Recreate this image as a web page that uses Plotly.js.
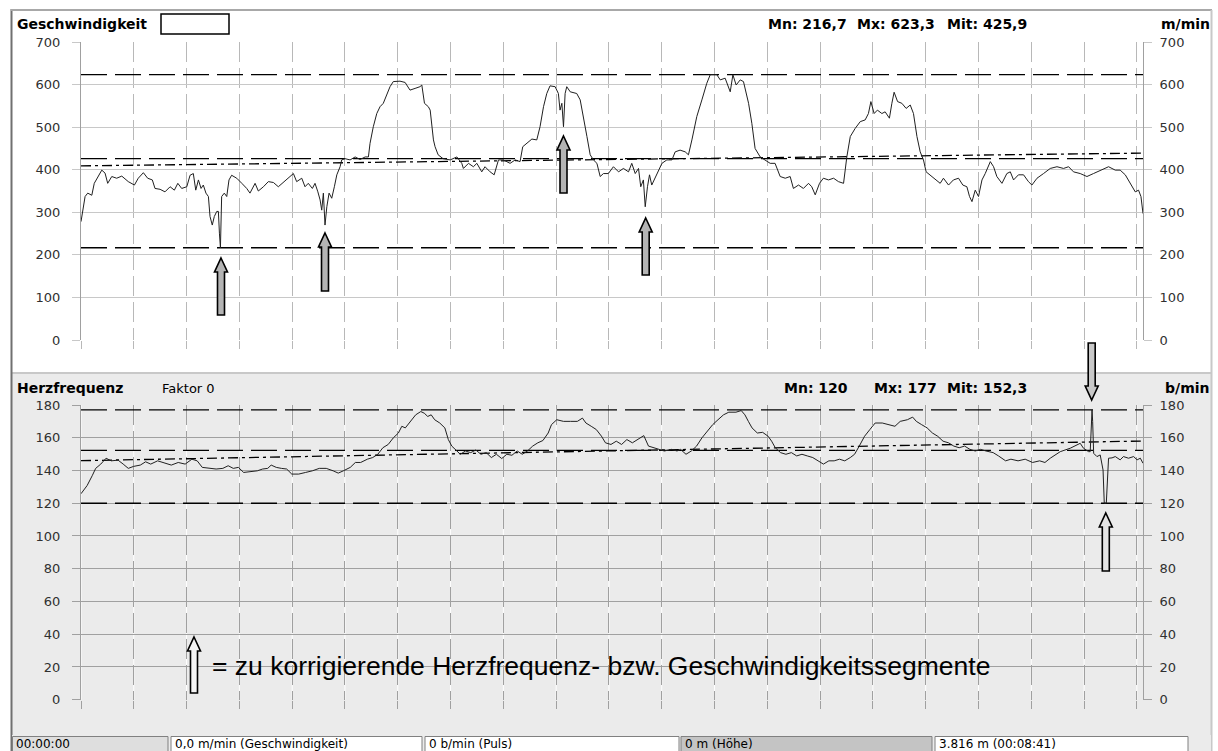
<!DOCTYPE html>
<html><head><meta charset="utf-8">
<script src="https://cdn.plot.ly/plotly-3.0.1.min.js"></script>
<style>html,body{margin:0;padding:0;background:#fff;overflow:hidden}#chart{width:1218px;height:751px}</style>
</head><body><div id="chart"></div>
<script>
// ---------------- DATA ----------------
const DURATION = 521;            // s (00:08:41)
const GRID_STEP = 25.9;          // s between vertical grid lines
const SPEED_TICKS = [0,100,200,300,400,500,600,700];
const HR_TICKS = [0,20,40,60,80,100,120,140,160,180];

const SPEED_T = [0,2.0,3.3,5.3,6.5,10.2,11.8,13.1,15.1,17.5,20.0,23.2,26.2,28.1,30.6,32.7,35.0,36.3,38.8,41.2,43.7,45.8,47.5,49.4,51.9,53.5,55.1,56.3,57.6,58.9,60.0,61.3,62.5,63.3,64.4,65.4,66.6,67.4,67.9,68.4,69.0,70.3,71.5,72.6,73.9,76.4,78.9,81.3,82.9,85.4,87.0,89.5,91.9,94.4,96.8,99.3,101.7,104.2,105.8,108.3,109.9,111.5,113.5,114.8,116.2,117.3,118.1,118.9,119.7,120.6,121.7,123.0,124.3,125.5,127.1,127.9,129.5,132.0,134.5,136.9,139.4,141.0,141.8,143.4,145.1,146.7,148.3,150.0,151.6,153.2,156.5,159.0,161.4,163.9,166.3,167.2,168.5,170.4,171.3,172.9,173.7,175.2,177.6,181.1,184.4,186.8,187.6,190.1,192.5,194.2,196.6,198.2,200.7,202.7,204.8,207.2,210.5,213.0,215.4,216.7,218.7,221.2,223.6,225.2,226.9,228.5,230.1,232.6,234.2,235.0,235.9,236.7,237.5,238.3,240.0,243.2,244.9,246.5,248.2,249.8,251.4,253.1,254.7,256.3,258.7,261.2,263.7,266.1,268.6,270.2,271.9,273.5,274.6,275.9,276.8,277.9,278.9,280.0,282.5,285.0,287.4,289.9,291.5,293.9,296.4,298.0,299.7,302.1,304.6,307.0,308.7,311.9,313.6,316.0,318.5,319.8,321.4,323.4,325.0,327.5,329.1,330.7,333.2,335.6,338.1,340.5,343.0,345.5,347.9,349.5,352.0,354.4,356.9,358.5,360.2,362.3,364.2,366.7,369.2,371.6,374.1,375.7,377.4,379.8,382.3,384.7,386.3,387.5,389.1,390.7,392.9,394.5,396.6,397.8,398.9,400.6,402.7,404.8,406.8,408.4,410.1,411.7,413.3,414.6,417.4,419.9,421.5,423.1,425.6,428.0,430.5,432.6,434.6,435.9,437.1,438.7,440.3,442.0,443.6,446.1,447.7,449.3,451.8,454.2,455.9,457.5,459.9,462.4,464.8,466.5,469.0,472.2,475.5,478.8,482.0,484.5,486.9,490.2,493.5,496.7,500.0,504.1,507.4,509.8,512.3,514.7,517.2,518.8,520.0,521.0];
const SPEED_V = [278,337,345,340,368,399,392,368,384,380,385,372,364,380,393,380,376,356,354,348,360,352,368,356,360,387,391,352,376,356,364,345,337,290,270,290,302,302,251,216.7,337,345,337,376,387,380,368,356,345,368,350,360,372,370,360,370,380,391,372,380,360,368,356,368,348,329,305,345,270,313,345,333,360,388,407,423,426,423,430,424,430,430,462,501,532,548,556,575,595,607,608,605,587,591,595,599,556,548,540,470,454,435,426,423,430,415,403,415,407,415,395,407,395,388,423,423,415,423,419,454,462,472,470,501,548,579,597,595,579,540,556,501,579,595,583,579,564,525,478,435,423,415,384,391,391,407,395,403,395,415,391,403,360,376,313,360,388,364,388,415,423,423,442,446,442,435,470,525,564,603,623.3,623.3,611,615,583,623,599,611,607,556,509,450,430,423,415,415,384,380,384,356,364,356,368,360,341,368,380,376,380,372,368,430,478,497,513,517,532,560,532,540,532,536,521,556,582,560,556,544,552,532,478,442,423,395,384,376,368,380,364,376,380,364,360,337,325,352,337,376,391,419,407,384,368,391,395,376,388,388,372,364,380,391,403,407,403,407,395,391,384,391,399,407,399,399,388,368,348,352,337,297];

const HR_T = [0,3.0,5.5,7.2,9.7,12.3,14.8,18.2,20.7,23.2,25.8,29.1,31.7,34.2,37.6,40.9,44.3,47.7,51.1,54.4,57.0,59.5,62.9,66.3,69.6,72.2,74.7,77.2,79.8,83.1,86.5,89.1,91.6,93.3,95.8,98.3,100.9,103.4,106.8,110.2,113.5,116.9,120.3,123.7,126.2,128.7,132.1,134.6,137.2,140.5,143.1,145.6,148.1,150.7,153.2,155.7,157.4,159.1,161.6,164.2,166.7,168.4,170.1,171.8,173.5,176.0,178.5,180.2,181.9,183.6,186.1,188.6,191.2,193.7,196.2,198.8,201.3,203.8,206.4,208.9,211.4,214.0,216.5,219.0,221.6,224.1,226.6,229.2,230.8,233.4,236.7,240.1,243.5,246.0,247.7,250.3,252.8,255.3,257.3,260.0,262.6,265.2,267.8,270.5,273.1,276.1,278.4,281.0,283.6,286.2,289.7,292.4,294.1,296.8,299.4,302.0,304.6,307.3,309.9,312.5,315.2,317.8,321.3,323.9,325.7,327.4,329.2,331.8,334.4,337.1,338.8,340.6,343.2,345.8,348.5,351.1,353.7,356.3,359.0,361.6,364.2,366.9,369.5,372.1,374.7,377.4,379.5,381.8,384.4,387.0,389.6,393.1,396.7,399.3,401.9,405.4,408.0,409.8,412.4,415.1,417.7,420.3,422.9,425.6,428.2,430.8,433.5,436.1,438.7,441.3,444.0,447.5,450.1,453.6,456.2,459.7,463.2,466.8,470.3,472.9,475.5,480.4,485.3,490.2,491.8,494.3,495.1,496.0,496.3,496.8,498.4,500.0,501.4,502.0,503.0,503.6,504.1,505.8,507.4,509.8,511.4,513.9,516.4,518.1,519.7,521.0];
const HR_V = [125.8,130.8,136.8,141.3,143.9,147.5,145.9,146.3,143.9,141.3,142.5,143.3,145.3,143.9,145.9,144.5,143.3,144.9,143.9,146.9,145.9,141.9,141.3,140.9,141.3,142.9,141.3,141.9,138.8,139.2,139.8,140.9,141.3,143.3,141.9,141.3,140.9,137.8,137.8,138.8,139.8,141.3,141.3,139.8,138.4,139.8,141.9,144.9,144.9,146.9,147.9,149.9,153.9,155.9,159.9,162.9,167.0,166.0,170.0,174.0,176.0,175.0,173.0,174.0,171.0,169.0,166.0,158.9,154.9,152.9,149.9,151.9,150.9,152.5,149.9,150.9,147.9,149.9,147.3,149.9,149.3,151.9,149.9,151.9,154.9,156.9,158.3,162.9,168.0,171.0,170.0,170.0,170.0,172.0,169.0,167.0,165.0,161.0,156.9,155.9,157.9,155.9,158.9,156.9,158.9,161.3,154.9,153.9,152.9,151.9,152.9,151.9,152.9,149.9,151.9,154.9,159.9,163.9,168.0,171.0,174.0,175.6,175.6,176.6,174.0,170.0,166.0,162.9,163.3,160.9,157.9,153.9,150.9,149.9,150.9,148.9,149.9,148.9,147.9,145.9,143.9,145.9,145.9,146.9,145.9,147.9,149.9,154.9,160.9,165.0,169.0,169.0,168.0,167.0,170.0,171.0,172.6,170.0,168.0,166.0,162.9,160.9,157.9,156.9,154.9,153.9,154.9,152.9,151.9,152.9,151.9,150.9,148.9,145.9,146.9,145.9,146.9,144.9,145.9,144.9,147.5,151.5,153.6,156.6,153.6,151.5,151.5,177,170,150.5,148.5,149.5,140.3,120,120,138.3,147.5,147.7,148.5,146.5,148.5,147.5,148.5,146.5,147.5,144.4];

// reference lines: [min, max, mean] and trend [start, end]
const SPEED_REF = [216.7, 623.3, 425.9];
const SPEED_TREND = [409, 439];
const HR_REF = [120, 177, 152.3];
const HR_TREND = [146, 158];

// ---------------- LAYOUT HELPERS ----------------
const W = 1218, H = 751;
const X = px => px / W, Y = py => 1 - py / H;
const PL = 81, PR = 1143;          // plot area left/right (px)
const TOP = [42, 340], BOT = [405, 699.7];
const GRID_T = []; for (let k = 0; k * GRID_STEP <= DURATION; k++) GRID_T.push(+(k * GRID_STEP).toFixed(2));

const FONT = 'DejaVu Sans';
const refDash = '26px,8px', trendDash = '10px,4px,3px,4px';

const traces = [];
function refLine(xa, ya, y0, y1, dash) {
  traces.push({x: [0, DURATION], y: [y0, y1], xaxis: xa, yaxis: ya, mode: 'lines',
    line: {color: '#000', width: 1.3, dash: dash}, hoverinfo: 'skip'});
}
SPEED_REF.forEach(v => refLine('x', 'y', v, v, refDash));
refLine('x', 'y', SPEED_TREND[0], SPEED_TREND[1], trendDash);
HR_REF.forEach(v => refLine('x2', 'y2', v, v, refDash));
refLine('x2', 'y2', HR_TREND[0], HR_TREND[1], trendDash);
traces.push({x: SPEED_T, y: SPEED_V, xaxis: 'x', yaxis: 'y', mode: 'lines', line: {color: '#202020', width: 1}, name: 'Geschwindigkeit'});
traces.push({x: HR_T, y: HR_V, xaxis: 'x2', yaxis: 'y2', mode: 'lines', line: {color: '#202020', width: 1}, name: 'Herzfrequenz'});
// right-side axes need a subplot
traces.push({x: [0], y: [0], xaxis: 'x', yaxis: 'y3', mode: 'markers', marker: {opacity: 0}, hoverinfo: 'skip'});
traces.push({x: [0], y: [0], xaxis: 'x2', yaxis: 'y4', mode: 'markers', marker: {opacity: 0}, hoverinfo: 'skip'});

function xAxis(anchor, gridColor) {
  return {domain: [X(PL), X(PR)], range: [0, DURATION], anchor: anchor, tickvals: GRID_T, showticklabels: false,
    ticks: 'outside', ticklen: 8, tickcolor: gridColor, showgrid: true, gridcolor: gridColor, griddash: '20px,6px',
    gridwidth: 1, zeroline: false, showline: false, fixedrange: true};
}
function yAxis(dom, range, ticks, gridColor, side, overlay, anchor) {
  const a = {domain: [Y(dom[1]), Y(dom[0])], range: range, tickvals: ticks, ticks: 'outside', ticklen: 8,
    tickcolor: gridColor, gridcolor: gridColor, showgrid: !overlay, showline: true, linecolor: '#a0a0a0',
    zeroline: false, tickfont: {family: FONT, size: 13, color: '#303030'}, fixedrange: true,
    ticklabelstandoff: side === 'left' ? 9 : 5, side: side};
  if (overlay) { a.overlaying = overlay; a.anchor = anchor; }
  return a;
}

function rect(x0, y0, x1, y1, fill, lineColor, lw) {
  return {type: 'rect', xref: 'paper', yref: 'paper', x0: X(x0), x1: X(x1), y0: Y(y1), y1: Y(y0),
    fillcolor: fill, line: {color: lineColor || 'rgba(0,0,0,0)', width: lw || 0}, layer: 'below'};
}
function pline(x0, y0, x1, y1, color, w) {
  return {type: 'line', xref: 'paper', yref: 'paper', x0: X(x0), x1: X(x1), y0: Y(y0), y1: Y(y1),
    line: {color: color, width: w}, layer: 'below'};
}
function arrow(cx, tip, base, fill) {
  const dir = base > tip ? 1 : -1, hw = 6.5, sw = 3.5, hl = 14, hb = tip + dir * hl;
  const pts = [[cx, tip], [cx + hw, hb], [cx + sw, hb], [cx + sw, base], [cx - sw, base], [cx - sw, hb], [cx - hw, hb]];
  return {type: 'path', xref: 'paper', yref: 'paper', layer: 'above',
    path: 'M' + pts.map(p => X(p[0]).toFixed(5) + ',' + Y(p[1]).toFixed(5)).join('L') + 'Z',
    fillcolor: fill, line: {color: '#000', width: 1.6}};
}

const SB = 736.5; // status bar top
const shapes = [
  rect(12, 11, 1211, 372, '#ffffff'),
  rect(12, 374, 1211, 735, '#ebebeb'),
  pline(12, 373, 1211, 373, '#c8c8c8', 2),
  pline(11.5, 9, 11.5, 751, '#707070', 2),
  pline(11, 10, 1212, 10, '#a8a8a8', 2),
  pline(1211.5, 10, 1211.5, 751, '#c8c8c8', 2),
  rect(12, 735, 1211, 751, '#ebebeb'),
  rect(12.5, SB, 168, 752, '#dedede', '#808080', 1),
  rect(171, SB, 422, 752, '#ffffff', '#808080', 1),
  rect(425, SB, 679, 752, '#ffffff', '#808080', 1),
  rect(681, SB, 932, 752, '#c4c4c4', '#808080', 1),
  rect(935, SB, 1188, 752, '#ffffff', '#808080', 1),
  rect(161, 14, 229, 34, '#ffffff', '#000000', 1.5)
];
// white background under the dashed grid of the heart-rate panel
GRID_T.forEach(t => shapes.push({type: 'line', xref: 'x2', yref: 'paper', x0: t, x1: t, y0: Y(BOT[1]), y1: Y(BOT[0]),
  line: {color: '#ffffff', width: 1}, layer: 'below'}));
// correction arrows
shapes.push(arrow(221, 258, 315, '#b4b4b4'));
shapes.push(arrow(325, 233, 291, '#b4b4b4'));
shapes.push(arrow(563.5, 136, 193, '#b4b4b4'));
shapes.push(arrow(645.7, 218, 275, '#b4b4b4'));
shapes.push(arrow(1091.7, 400, 343, '#c8c8c8'));
shapes.push(arrow(1105.8, 513, 571, '#e4e4e4'));
shapes.push(arrow(194, 637, 693, '#f4f4f4'));

function txt(text, x, y, anchor, size, bold, family) {
  return {text: bold ? '<b>' + text + '</b>' : text, x: X(x), y: Y(y), xref: 'paper', yref: 'paper',
    xanchor: anchor, yanchor: 'middle', showarrow: false, borderpad: 0,
    font: {family: family || FONT, size: size, color: '#000'}};
}
const annotations = [
  txt('Geschwindigkeit', 16, 24, 'left', 14, true),
  txt('Mn: 216,7', 767, 24, 'left', 14, true),
  txt('Mx: 623,3', 856, 24, 'left', 14, true),
  txt('Mit: 425,9', 1028, 24, 'right', 14, true),
  txt('m/min', 1211, 24, 'right', 14, true),
  txt('Herzfrequenz', 16, 388, 'left', 14, true),
  txt('Faktor 0', 161, 388, 'left', 13, false),
  txt('Mn: 120', 783, 388, 'left', 14, true),
  txt('Mx: 177', 873, 388, 'left', 14, true),
  txt('Mit: 152,3', 1028, 388, 'right', 14, true),
  txt('b/min', 1211, 388, 'right', 14, true),
  txt('= zu korrigierende Herzfrequenz- bzw. Geschwindigkeitssegmente', 211, 666, 'left', 26.5, false, 'Liberation Sans'),
  txt('00:00:00', 15, 743.5, 'left', 12, false),
  txt('0,0 m/min (Geschwindigkeit)', 174, 743.5, 'left', 12, false),
  txt('0 b/min (Puls)', 428, 743.5, 'left', 12, false),
  txt('0 m (Höhe)', 684, 743.5, 'left', 12, false),
  txt('3.816 m (00:08:41)', 938, 743.5, 'left', 12, false)
];

const layout = {
  width: W, height: H, margin: {l: 0, r: 0, t: 0, b: 0}, autosize: false,
  paper_bgcolor: '#ffffff', plot_bgcolor: 'rgba(0,0,0,0)', showlegend: false,
  font: {family: FONT, size: 13, color: '#303030'},
  xaxis: xAxis('y', '#b8b8b8'),
  yaxis: yAxis(TOP, [0, 700], SPEED_TICKS, '#c8c8c8', 'left'),
  yaxis3: yAxis(TOP, [0, 700], SPEED_TICKS, '#c8c8c8', 'right', 'y', 'x'),
  xaxis2: xAxis('y2', '#a0a0a0'),
  yaxis2: yAxis(BOT, [0, 180], HR_TICKS, '#a0a0a0', 'left'),
  yaxis4: yAxis(BOT, [0, 180], HR_TICKS, '#a0a0a0', 'right', 'y2', 'x2'),
  shapes: shapes, annotations: annotations
};
Plotly.newPlot('chart', traces, layout, {staticPlot: true, displayModeBar: false});
</script></body></html>
